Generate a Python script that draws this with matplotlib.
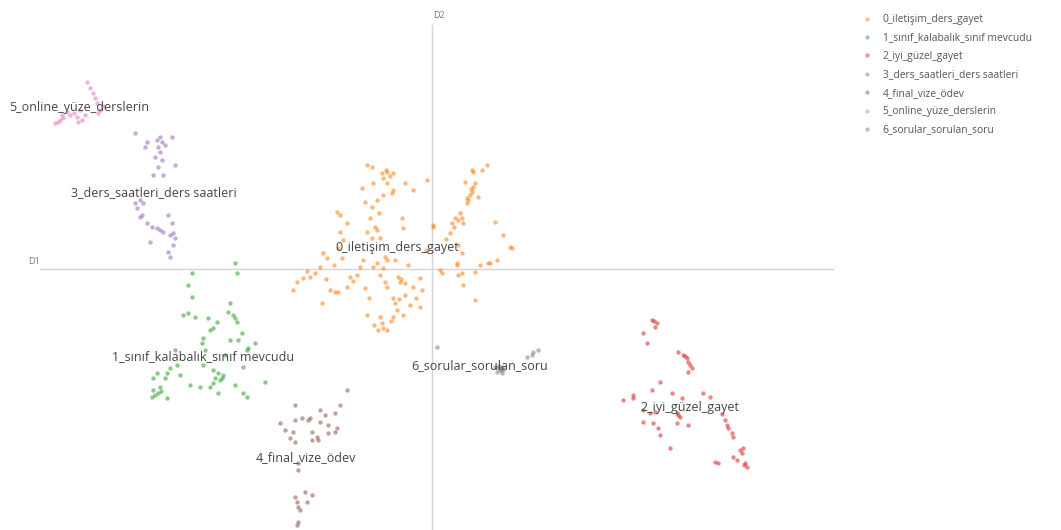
import matplotlib
matplotlib.use("Agg")
import matplotlib.pyplot as plt
from matplotlib.lines import Line2D

plt.rcParams["font.family"] = ["Open Sans", "DejaVu Sans"]

topic_names = [
    "0_iletişim_ders_gayet",
    "1_sınıf_kalabalık_sınıf mevcudu",
    "2_iyi_güzel_gayet",
    "3_ders_saatleri_ders saatleri",
    "4_final_vize_ödev",
    "5_online_yüze_derslerin",
    "6_sorular_sorulan_soru",
]
topic_colors = ["#ff7f0e", "#2ca02c", "#d62728", "#9467bd", "#8c564b", "#e377c2", "#7f7f7f"]

# 2-D document embeddings per topic (D1, D2)
t0_d1 = [-6.5, -6.0, -5.0, -4.5, -3.9, -4.9, -4.5, -5.9, -3.9, -4.0, -2.7, -1.9, -0.5, -7.0, -6.7,
         -4.9, -5.5, -9.5, -9.2, -8.5, -6.0, -6.2, -3.0, -2.9, 0.1, -5.7, -5.5, -6.5, -9.2, -6.0,
         -5.2, -10.9, -10.5, -9.4, -9.0, -11.2, -11.7, -12.2, -12.9, -13.5, -13.9, -11.0, -10.2, -9.4, -8.5,
         -8.2, -7.5, -7.2, -6.9, -5.9, -5.5, -4.7, -4.5, -3.7, -4.9, -5.2, -4.7, -4.5, -3.4, -3.2,
         -2.7, -1.9, -1.2, -1.0, -2.7, -3.9, -3.7, -3.5, -2.9, -2.2, -1.2, -6.5, -5.2, -5.0, -4.9,
         -4.5, -5.4, -3.9, 0.8, 1.0, 2.5, 2.6, 3.1, 4.3, 4.8, 5.6, 6.5, 4.3, 1.8, 2.8,
         2.6, 3.0, 3.5, 3.6, 3.8, 4.0, 4.1, 4.3, 3.3, 4.1, 5.0, 5.5, 6.3, 7.1, 7.8,
         8.0, 4.0, 3.5, 2.3, 2.0, 3.1, 2.6, 3.0, 2.5, 3.0, 5.8, 0.1, -6.7, -9.7,
         -4.6, -4.2, -5.3, -8.9, -9.8, -7.9, -6.3, -3.1, -2.4, -1.6, -12.5, -10.6, -5.8, -4.1, -3.3,
         4.6, 3.9, 2.2, 1.4, -0.6]
t0_d2 = [10.4, 10.2, 9.6, 9.7, 9.6, 9.1, 8.6, 8.6, 7.9, 7.6, 8.6, 7.9, 8.9, 8.1, 6.7,
         7.4, 6.9, 5.7, 5.4, 4.6, 6.2, 5.1, 5.1, 4.1, 4.2, 4.2, 3.9, 3.7, 3.7, 3.1,
         3.1, 1.6, 1.1, 2.1, 1.1, 0.2, -0.4, -0.8, -0.9, -1.3, -2.1, -3.4, -2.1, -2.3, -1.8,
         -0.8, -0.6, 0.2, 0.9, 0.2, 0.6, 1.2, 0.9, 0.9, 0.1, -0.6, -1.3, -1.8, -0.8, -1.3,
         -1.4, -1.8, -0.9, -2.1, -2.6, -2.9, -3.4, -4.1, -4.6, -3.6, -3.8, -4.6, -4.8, -5.4, -5.9,
         -6.1, -6.1, -4.8, -0.1, -0.4, 0.4, -0.6, -1.6, -0.3, 0.4, 0.6, 0.9, -3.1, 3.6, 5.6,
         4.9, 5.1, 6.6, 6.9, 7.4, 7.7, 8.2, 8.6, 8.7, 9.7, 9.9, 10.4, 4.7, 3.4, 2.2,
         2.1, 9.9, 7.1, 5.1, 4.6, 4.6, 2.4, 1.6, 0.6, -0.4, 0.6, 4.4, -1.9, -2.3,
         9.9, 9.3, 5.6, 2.9, 0.4, -1.2, -2.9, -1.0, 0.4, -2.9, -0.2, -1.0, -5.6, -5.2, -3.0,
         7.2, 8.0, 4.2, 3.0, 1.9]

t1_d1 = [-19.7, -19.5, -24.0, -24.4, -24.0, -20.2, -20.4, -19.7, -19.5, -24.9, -24.4, -23.7, -22.4, -21.5, -21.9,
         -22.2, -19.0, -22.9, -23.0, -20.2, -19.4, -17.7, -18.4, -18.5, -18.9, -22.9, -21.9, -27.5, -26.5, -25.2,
         -27.9, -26.7, -21.4, -20.9, -21.7, -21.9, -24.2, -23.2, -22.2, -19.7, -27.2, -27.4, -28.0, -26.5, -21.4,
         -18.9, -18.5, -25.7, -25.5, -27.7, -21.2, -26.2, -22.7, -20.7, -16.7, -19.9, -21.0, -27.9, -27.1]
t1_d2 = [0.6, -0.4, -0.4, -1.6, -2.8, -3.4, -4.3, -4.9, -5.3, -4.6, -4.4, -4.8, -4.9, -5.3, -5.9,
         -6.1, -6.4, -6.9, -7.4, -7.1, -7.1, -7.4, -7.9, -8.1, -9.8, -9.6, -10.1, -10.4, -10.4, -10.6,
         -10.9, -10.9, -10.4, -10.6, -10.9, -11.4, -11.6, -11.8, -11.8, -11.6, -11.8, -12.4, -12.8, -12.9, -12.4,
         -12.4, -12.8, -8.1, -9.6, -12.6, -11.1, -9.9, -8.1, -8.6, -11.3, -4.6, -10.9, -12.1, -12.2]

t2_d1 = [22.0, 22.5, 22.3, 21.1, 21.5, 24.6, 25.1, 25.5, 25.6, 25.8, 26.0, 25.6, 22.8, 22.0, 20.1,
         20.1, 19.1, 24.0, 25.0, 27.1, 27.8, 21.1, 21.8, 22.3, 24.5, 24.8, 21.1, 22.1, 22.6, 24.5,
         25.6, 22.8, 29.3, 29.5, 29.6, 30.0, 30.1, 23.8, 31.1, 31.0, 30.1, 30.5, 31.3, 31.5, 28.3,
         28.6, 24.6, 22.2, 29.0, 30.8, 25.3, 31.2]
t2_d2 = [-5.1, -5.4, -5.8, -6.4, -7.4, -8.3, -8.6, -8.9, -9.3, -9.6, -9.9, -10.3, -11.3, -12.1, -12.6,
         -12.9, -13.1, -12.4, -12.9, -12.4, -12.8, -14.1, -14.4, -14.3, -14.4, -14.8, -15.3, -15.4, -15.9, -15.4,
         -15.6, -16.6, -15.1, -15.6, -15.9, -16.4, -16.8, -17.9, -17.9, -18.4, -18.8, -19.1, -19.4, -19.8, -19.3,
         -19.4, -14.6, -5.2, -14.5, -18.1, -8.7, -19.6]

t3_d1 = [-29.7, -28.5, -27.5, -27.0, -26.0, -27.4, -27.2, -27.7, -27.0, -27.4, -27.9, -26.9, -25.7, -28.7, -29.2,
         -28.9, -29.7, -29.5, -29.2, -28.5, -28.0, -27.5, -26.9, -26.2, -25.9, -26.4, -26.0, -28.2, -25.9, -26.4,
         -26.2, -29.0, -27.2, -26.7, -27.2, -25.7]
t3_d2 = [13.6, 12.7, 12.9, 12.7, 13.2, 12.2, 11.7, 11.2, 10.9, 10.2, 9.4, 9.4, 10.4, 12.2, 6.9,
         6.6, 6.6, 6.1, 5.2, 4.6, 4.2, 4.1, 3.7, 3.4, 3.6, 5.4, 4.6, 2.7, 2.4, 1.7,
         1.2, 5.4, 13.2, 12.4, 3.9, 3.1]

t4_d1 = [-8.5, -9.2, -13.7, -11.2, -10.7, -9.7, -15.2, -13.7, -13.0, -12.4, -12.2, -11.2, -10.4, -9.5, -9.7,
         -10.4, -14.7, -13.9, -14.2, -13.7, -12.0, -12.0, -11.4, -11.5, -13.4, -13.4, -12.7, -12.0, -13.7, -13.5,
         -12.5, -13.4, -13.2, -13.4, -13.5]
t4_d2 = [-12.1, -13.6, -13.6, -14.1, -14.6, -14.4, -15.4, -15.1, -14.9, -15.1, -14.9, -15.3, -15.6, -15.9, -16.3,
         -16.4, -16.1, -16.3, -16.9, -17.3, -16.3, -17.1, -17.1, -16.8, -19.4, -20.1, -22.3, -22.6, -22.8, -23.3,
         -23.3, -23.8, -24.1, -25.3, -25.6]

t5_d1 = [-34.5, -34.2, -33.9, -33.7, -33.5, -33.2, -33.4, -35.2, -35.5, -36.2, -36.9, -37.4, -37.7, -35.0, -35.4,
         -36.5, -37.0, -32.9, -37.2, -35.8, -34.7]
t5_d2 = [18.7, 18.1, 17.6, 17.1, 16.6, 15.9, 15.6, 15.9, 15.2, 15.4, 15.1, 14.7, 14.6, 14.9, 14.7,
         15.7, 15.4, 16.3, 14.9, 15.6, 15.4]

t6_d1 = [0.5, 6.6, 6.8, 6.5, 7.0, 7.1, 9.5, 10.1, 10.6, 10.0, 7.0, 6.3, 6.7, 6.9]
t6_d2 = [-7.8, -9.9, -10.1, -10.3, -9.8, -10.1, -8.8, -8.3, -8.1, -8.6, -10.4, -9.8, -9.7, -10.0]

# topic label anchor (centre of the cluster label)
label_d1 = [-3.5, -22.9, 25.8, -27.8, -12.6, -35.3, 4.8]
label_d2 = [2.1, -8.8, -13.8, 7.6, -18.9, 16.2, -9.7]

topic_d1 = [t0_d1, t1_d1, t2_d1, t3_d1, t4_d1, t5_d1, t6_d1]
topic_d2 = [t0_d2, t1_d2, t2_d2, t3_d2, t4_d2, t5_d2, t6_d2]

W, H = 1061, 530
fig = plt.figure(figsize=(W / 100, H / 100), dpi=100)
ax = fig.add_axes([0, 0, 840 / W, 1])
ax.set_xlim(-43.2, 40.8)
ax.set_ylim(-26.1, 26.9)
ax.axis("off")

# centred axis lines
ax.plot([-39.2, 40.1], [0, 0], color="#d4d4d4", lw=1.0, zorder=0)
ax.plot([0, 0], [-26.1, 24.4], color="#d4d4d4", lw=1.0, zorder=0)
ax.text(-40.4, 0.7, "D1", fontsize=6.5, color="#777777", ha="left", va="center")
ax.text(0.1, 25.4, "D2", fontsize=6.5, color="#777777", ha="left", va="center")

for xs, ys, col in zip(topic_d1, topic_d2, topic_colors):
    ax.scatter(xs, ys, s=10, color=col, alpha=0.55, linewidths=0, zorder=2)

for name, lx, ly in zip(topic_names, label_d1, label_d2):
    ax.text(lx, ly, name, fontsize=9, color="#444444", ha="center", va="center", zorder=3)

handles = [Line2D([], [], marker="o", linestyle="none", markersize=3,
                  markerfacecolor=c, markeredgewidth=0, alpha=0.5) for c in topic_colors]
fig.legend(handles, topic_names, loc="upper left", bbox_to_anchor=(858 / W, 1 - 10 / H),
           frameon=False, fontsize=7.4, labelcolor="#555555", handlelength=1.0,
           handletextpad=1.0, labelspacing=0.72, borderaxespad=0)

fig.savefig("out.png", dpi=100, facecolor="white")
